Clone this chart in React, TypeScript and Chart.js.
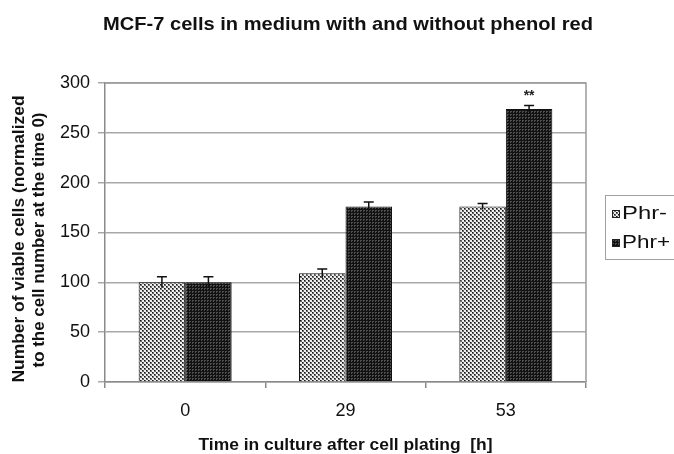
import React, { useEffect, useRef } from 'react';
import { Chart, registerables } from 'chart.js';

Chart.register(...registerables);

// ---- data ----
const categories = ['0', '29', '53'];
const seriesNames = ['Phr-', 'Phr+'];
const phrMinus = [100, 109, 176];
const phrPlus = [100, 176, 274];
const phrMinusErr = [5.5, 4.5, 3];
const phrPlusErr = [5.5, 4.5, 3.3];
const phrPlusMarks = ['', '', '**'];
const yMin = 0;
const yMax = 300;
const yStep = 50;

const chartTitle = 'MCF-7 cells in medium with and without phenol red';
const xTitle = 'Time in culture after cell plating  [h]';
const yTitle1 = 'Number of viable cells (normalized';
const yTitle2 = 'to the cell number at the time 0)';

const FONT = '"Liberation Sans", Arial, Helvetica, sans-serif';

function makePattern(ctx: CanvasRenderingContext2D, kind: 'light' | 'dark') {
  const c = document.createElement('canvas');
  if (kind === 'light') {
    c.width = 4;
    c.height = 4;
    const W = '#eeeeee';
    const G = '#6a6a6a';
    const D = '#151515';
    const grid = [
      [D, G, W, W],
      [G, G, W, W],
      [W, W, D, G],
      [W, W, G, G],
    ];
    const x = c.getContext('2d')!;
    grid.forEach((row, r) =>
      row.forEach((col, k) => {
        x.fillStyle = col;
        x.fillRect(k, r, 1, 1);
      })
    );
  } else {
    c.width = 3;
    c.height = 3;
    const x = c.getContext('2d')!;
    x.fillStyle = '#121212';
    x.fillRect(0, 0, 3, 3);
    x.fillStyle = '#4e4e4e';
    x.fillRect(0, 0, 2, 1);
    x.fillRect(0, 1, 1, 1);
  }
  return ctx.createPattern(c, 'repeat')!;
}

// draw text stretched horizontally to a given width
function drawFit(
  ctx: CanvasRenderingContext2D,
  text: string,
  x: number,
  y: number,
  targetW: number,
  font: string,
  align: 'center' | 'left' = 'center'
) {
  ctx.save();
  ctx.font = font;
  const w = ctx.measureText(text).width;
  const sx = targetW / w;
  ctx.textBaseline = 'middle';
  ctx.textAlign = align;
  ctx.translate(x, y);
  ctx.scale(sx, 1);
  ctx.fillText(text, 0, 0);
  ctx.restore();
}

export default function App() {
  const ref = useRef<HTMLCanvasElement>(null);

  useEffect(() => {
    document.body.style.margin = '0';
    const canvas = ref.current!;
    const ctx = canvas.getContext('2d')!;
    const light = makePattern(ctx, 'light');
    const dark = makePattern(ctx, 'dark');
    const fills = [light, dark];
    const errs = [phrMinusErr, phrPlusErr];

    const extras = {
      id: 'extras',
      afterDatasetsDraw(chart: any) {
        const c = chart.ctx as CanvasRenderingContext2D;
        const ys = chart.scales.y;
        c.save();
        chart.data.datasets.forEach((ds: any, di: number) => {
          const meta = chart.getDatasetMeta(di);
          meta.data.forEach((bar: any, i: number) => {
            const v = ds.data[i];
            const e = errs[di][i];
            const yt = ys.getPixelForValue(v + e);
            const yb = ys.getPixelForValue(v - e);
            c.strokeStyle = '#111';
            c.lineWidth = 1.5;
            c.beginPath();
            c.moveTo(bar.x, yb);
            c.lineTo(bar.x, yt);
            c.moveTo(bar.x - 5, yt);
            c.lineTo(bar.x + 5, yt);
            c.stroke();
            if (di === 1 && phrPlusMarks[i]) {
              c.fillStyle = '#222';
              c.font = `bold 14px ${FONT}`;
              c.textAlign = 'center';
              c.textBaseline = 'middle';
              c.fillText(phrPlusMarks[i], bar.x, yt - 9);
            }
          });
        });
        c.restore();
      },
      afterDraw(chart: any) {
        const c = chart.ctx as CanvasRenderingContext2D;
        const a = chart.chartArea;
        c.save();
        // plot frame (top & right)
        c.strokeStyle = '#9a9a9a';
        c.lineWidth = 1.5;
        c.beginPath();
        c.moveTo(a.left, a.top);
        c.lineTo(a.right, a.top);
        c.lineTo(a.right, a.bottom);
        c.stroke();

        c.fillStyle = '#111';
        // title
        drawFit(c, chartTitle, 348, 25, 490, `bold 19px ${FONT}`);
        // x title
        drawFit(c, xTitle, (a.left + a.right) / 2, 445, 294, `bold 17px ${FONT}`);
        // y title
        c.save();
        c.translate(20, 239);
        c.rotate(-Math.PI / 2);
        drawFit(c, yTitle1, 0, 0, 287, `bold 16px ${FONT}`);
        c.restore();
        c.save();
        c.translate(40, 240);
        c.rotate(-Math.PI / 2);
        drawFit(c, yTitle2, 0, 0, 255, `bold 16px ${FONT}`);
        c.restore();

        // legend
        c.strokeStyle = '#a0a0a0';
        c.lineWidth = 1;
        c.strokeRect(605.5, 195.5, 80, 64);
        const rows = [214, 243];
        const widths = [45, 48];
        seriesNames.forEach((name, i) => {
          c.fillStyle = fills[i];
          c.fillRect(612, rows[i] - 4, 8, 8);
          c.strokeStyle = '#222';
          c.strokeRect(612.5, rows[i] - 3.5, 7, 7);
          c.fillStyle = '#111';
          drawFit(c, name, 622, rows[i], widths[i], `19px ${FONT}`, 'left');
        });
        c.restore();
      },
    };

    const chart = new Chart(canvas, {
      type: 'bar',
      data: {
        labels: categories,
        datasets: [
          {
            label: seriesNames[0],
            data: phrMinus,
            backgroundColor: light,
            borderColor: '#111',
            borderWidth: 1,
            categoryPercentage: 0.58,
            barPercentage: 1,
          },
          {
            label: seriesNames[1],
            data: phrPlus,
            backgroundColor: dark,
            borderColor: '#111',
            borderWidth: 1,
            categoryPercentage: 0.58,
            barPercentage: 1,
          },
        ],
      },
      options: {
        animation: false,
        responsive: false,
        devicePixelRatio: 1,
        layout: { padding: { left: 0, right: 88, top: 83, bottom: 0 } },
        plugins: {
          legend: { display: false },
          title: { display: false },
          tooltip: { enabled: false },
        },
        scales: {
          x: {
            grid: {
              offset: true,
              drawOnChartArea: false,
              drawTicks: true,
              tickLength: 6,
              color: '#8a8a8a',
              lineWidth: 1.5,
            },
            border: { color: '#8a8a8a', width: 1.5 },
            ticks: { font: { family: FONT, size: 18 }, color: '#111', padding: 12 },
            afterFit: (s: any) => {
              s.height = 72;
            },
          },
          y: {
            min: yMin,
            max: yMax,
            ticks: { stepSize: yStep, font: { family: FONT, size: 18 }, color: '#111', padding: 8 },
            grid: { color: '#a8a8a8', lineWidth: 1.5, tickLength: 7 },
            border: { color: '#8a8a8a', width: 1.5 },
            afterFit: (s: any) => {
              s.width = 105;
            },
          },
        },
      },
      plugins: [extras],
    } as any);

    return () => chart.destroy();
  }, []);

  return (
    <div style={{ width: 674, height: 454, background: '#fff' }}>
      <canvas ref={ref} width={674} height={454} style={{ display: 'block' }} />
    </div>
  );
}
